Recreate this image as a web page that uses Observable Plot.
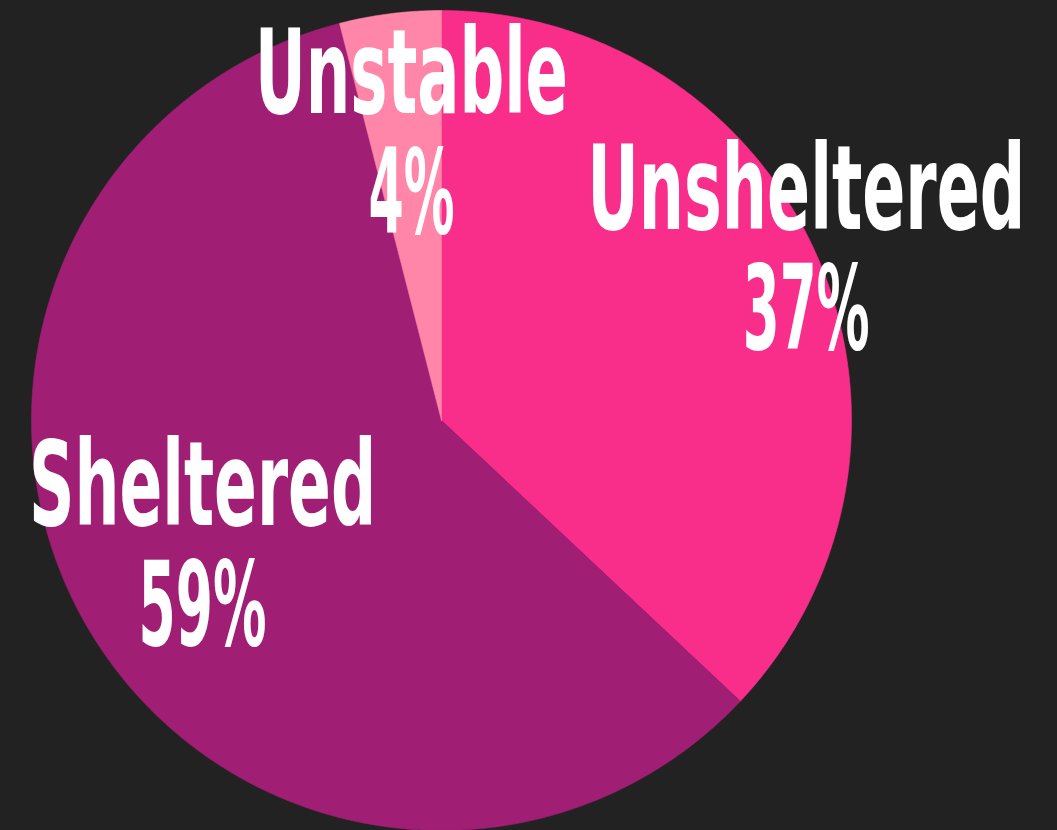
<!DOCTYPE html>
<html>
<head>
<meta charset="utf-8">
<script src="https://cdn.jsdelivr.net/npm/d3@7"></script>
<script src="https://cdn.jsdelivr.net/npm/@observablehq/plot@0.6"></script>
<style>
  html, body { margin: 0; padding: 0; background: #222222; }
  #chart { width: 1057px; height: 830px; overflow: hidden; }
</style>
</head>
<body>
<div id="chart"></div>
<script>
// ---- data ----
const categories = ["Unsheltered", "Sheltered", "Unstable"];
const shares = [37, 59, 4];
const colors = ["#F92D8A", "#A01E74", "#FF86A8"];

// ---- layout (not data) ----
const labelRadius = [0.98, 0.66, 0.70];      // fraction of pie radius
const labelAngleShift = [-1.4, 2.6, 1.2];    // degrees, nudge from slice mid-angle
const nameWidths = [438, 347, 313];
const pctWidths = [127, 128, 86];

const arcs = d3.pie().sort(null).value(d => d)(shares);

// slice outlines in unit coordinates (angle clockwise from 12 o'clock)
const slicePoints = [];
arcs.forEach((a, i) => {
  const cat = categories[i];
  slicePoints.push({cat, x: 0, y: 0});
  const n = Math.max(2, Math.ceil((a.endAngle - a.startAngle) / (Math.PI / 360)));
  for (let k = 0; k <= n; k++) {
    const t = a.startAngle + (a.endAngle - a.startAngle) * k / n;
    slicePoints.push({cat, x: Math.sin(t), y: Math.cos(t)});
  }
  slicePoints.push({cat, x: 0, y: 0});
});

const labels = arcs.map((a, i) => {
  const mid = (a.startAngle + a.endAngle) / 2 + labelAngleShift[i] * Math.PI / 180;
  return {
    cat: categories[i],
    pct: `${shares[i]}%`,
    x: labelRadius[i] * Math.sin(mid),
    y: labelRadius[i] * Math.cos(mid)
  };
});

const font = "'Liberation Sans Narrow', 'DejaVu Sans Condensed', 'Roboto', sans-serif";

const svg = Plot.plot({
  width: 1057,
  height: 830,
  style: {background: "#222222"},
  x: {domain: [-1, 1], range: [31, 851], axis: null},
  y: {domain: [-1, 1], range: [830, 10], axis: null},
  color: {domain: categories, range: colors},
  marks: [
    Plot.line(slicePoints, {x: "x", y: "y", z: "cat", fill: "cat", stroke: "cat", strokeWidth: 0.6, curve: "linear"}),
    Plot.text(labels, {x: "x", y: "y", text: "cat", dy: -60, fill: "white", fontSize: 117, fontWeight: "bold", fontFamily: font, textAnchor: "middle"}),
    Plot.text(labels, {x: "x", y: "y", text: "pct", dy: 60, fill: "white", fontSize: 117, fontWeight: "bold", fontFamily: font, textAnchor: "middle"})
  ]
});

const texts = svg.querySelectorAll("text");
texts.forEach((t, j) => {
  const w = j < 3 ? nameWidths[j] : pctWidths[j - 3];
  t.setAttribute("textLength", w);
  t.setAttribute("lengthAdjust", "spacingAndGlyphs");
});

document.getElementById("chart").appendChild(svg);
</script>
</body>
</html>
